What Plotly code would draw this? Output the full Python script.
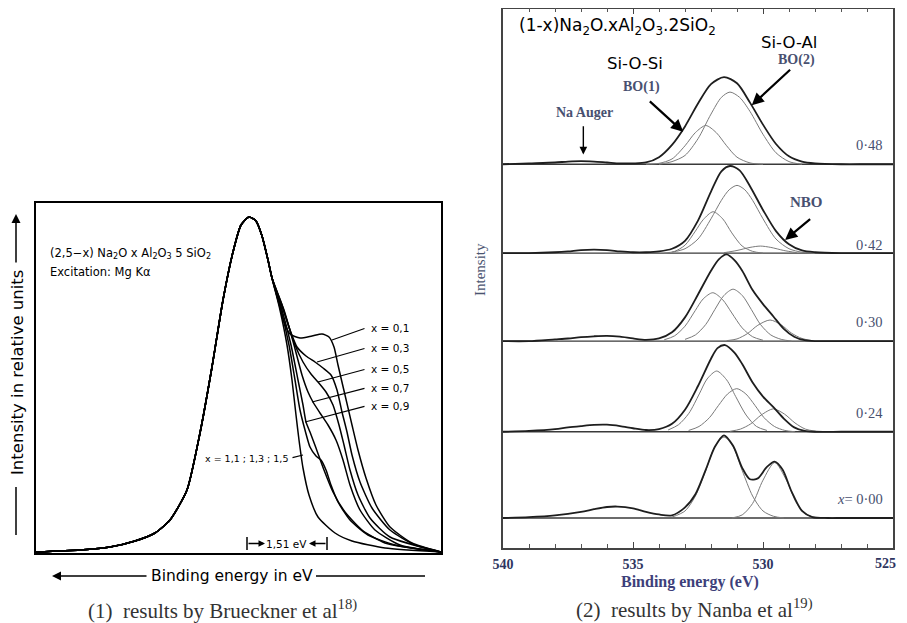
import plotly.graph_objects as go

# ================= Panel (1): Brueckner et al. =================
# x: energy channel (arbitrary units), y: intensity in relative units
left_common_x = [0, 44, 74, 99, 119, 134, 151, 164, 176, 187, 197, 205, 213, 220, 226, 232, 236]
left_common_y = [1, 3, 6, 12, 20, 33, 63, 120, 186, 253, 301, 328, 336, 332, 317, 293, 275]

left_branch_names = ["x = 1,5", "x = 1,1 ; 1,3", "x = 0,9", "x = 0,7", "x = 0,5", "x = 0,3", "x = 0,1"]
branch_x_15 = [236, 244, 251, 256, 260, 263, 267, 273, 282, 299, 316, 349, 405]
branch_y_15 = [275, 243, 208, 173, 138, 113, 85, 58, 36, 20, 12, 5, 1]
branch_x_11 = [236, 245, 253, 259, 264, 269, 274, 280, 285, 290, 295, 302, 314, 332, 359, 405]
branch_y_11 = [275, 243, 208, 173, 143, 123, 106, 97, 93, 83, 68, 51, 33, 18, 8, 1]
branch_x_09 = [236, 246, 255, 262, 267, 270, 274, 280, 288, 297, 309, 326, 349, 405]
branch_y_09 = [275, 243, 208, 173, 148, 131, 121, 105, 83, 61, 41, 23, 10, 1]
branch_x_07 = [236, 248, 258, 266, 272, 277, 284, 292, 300, 307, 314, 324, 339, 364, 405]
branch_y_07 = [275, 243, 208, 178, 161, 151, 140, 128, 113, 93, 68, 43, 23, 8, 1]
branch_x_05 = [236, 249, 259, 267, 275, 282, 290, 297, 303, 308, 314, 322, 334, 354, 405]
branch_y_05 = [275, 238, 208, 191, 179, 171, 161, 148, 128, 108, 83, 58, 35, 16, 1]
branch_x_03 = [236, 246, 254, 261, 270, 279, 287, 295, 301, 306, 311, 316, 324, 336, 354, 379, 405]
branch_y_03 = [275, 248, 223, 206, 197, 191, 185, 178, 163, 141, 121, 98, 71, 45, 23, 8, 1]
branch_x_01 = [236, 242, 248, 254, 264, 276, 286, 293, 298, 302, 309, 316, 322, 330, 340, 354, 376, 405]
branch_y_01 = [275, 253, 231, 219, 215, 217, 219, 216, 206, 188, 158, 128, 103, 75, 48, 26, 10, 1]

left_branches_x = [branch_x_15, branch_x_11, branch_x_09, branch_x_07, branch_x_05, branch_x_03, branch_x_01]
left_branches_y = [branch_y_15, branch_y_11, branch_y_09, branch_y_07, branch_y_05, branch_y_03, branch_y_01]

# ================= Panel (2): Nanba et al. =================
comp_labels = ["0·48", "0·42", "0·30", "0·24", "<i>x</i>= 0·00"]
comp_offsets = [4.02, 3.01, 2.01, 0.98, 0.0]

env_x_048 = [540, 539, 538, 537.5, 537, 536.5, 536, 535.5, 535, 534.5, 534, 533.5, 533, 532.5, 532, 531.5, 531, 530.5, 530, 529.5, 529, 528.5, 528, 527, 526, 525]
env_y_048 = [0.0, 0.01, 0.02, 0.03, 0.035, 0.03, 0.02, 0.01, 0.01, 0.02, 0.08, 0.22, 0.43, 0.69, 0.91, 0.99, 0.92, 0.70, 0.45, 0.23, 0.09, 0.03, 0.01, 0.0, 0.0, 0.0]
bo1_x_048 = [534.5, 534, 533.5, 533, 532.6, 532.2, 531.8, 531.4, 531, 530.5, 530]
bo1_y_048 = [0.0, 0.01, 0.06, 0.21, 0.36, 0.44, 0.36, 0.21, 0.08, 0.015, 0.0]
bo2_x_048 = [534, 533.5, 533, 532.5, 532, 531.6, 531.27, 530.9, 530.5, 530, 529.5, 529, 528.5]
bo2_y_048 = [0.0, 0.03, 0.10, 0.29, 0.57, 0.76, 0.82, 0.76, 0.60, 0.34, 0.13, 0.03, 0.0]

env_x_042 = [540, 539, 538, 537.5, 537, 536.5, 536, 535.5, 535, 534.5, 534, 533.5, 533, 532.5, 532, 531.6, 531.27, 530.9, 530.5, 530, 529.5, 529, 528.5, 528, 527, 526, 525]
env_y_042 = [0.0, 0.0, 0.01, 0.02, 0.035, 0.04, 0.035, 0.02, 0.01, 0.01, 0.02, 0.05, 0.14, 0.37, 0.70, 0.93, 0.99, 0.94, 0.76, 0.49, 0.25, 0.10, 0.03, 0.01, 0.0, 0.0, 0.0]
bo1_x_042 = [533.8, 533.4, 533, 532.6, 532.3, 531.92, 531.55, 531.2, 530.8, 530.4, 530]
bo1_y_042 = [0.0, 0.02, 0.09, 0.25, 0.38, 0.47, 0.39, 0.23, 0.08, 0.02, 0.0]
bo2_x_042 = [533.5, 533, 532.5, 532, 531.6, 531.3, 531.0, 530.7, 530.4, 530, 529.5, 529, 528.5, 528]
bo2_y_042 = [0.01, 0.05, 0.16, 0.39, 0.60, 0.72, 0.77, 0.72, 0.60, 0.39, 0.16, 0.05, 0.01, 0.0]
nbo_x_042 = [531.5, 531, 530.5, 530.1, 529.7, 529.2, 528.7]
nbo_y_042 = [0.005, 0.03, 0.065, 0.08, 0.065, 0.03, 0.005]

env_x_030 = [540, 539, 538, 537.5, 537, 536.5, 536, 535.5, 535, 534.5, 534, 533.5, 533, 532.5, 532, 531.7, 531.4, 531.1, 530.8, 530.4, 530, 529.6, 529.2, 528.8, 528.4, 528, 527, 526, 525]
env_y_030 = [0.0, 0.0, 0.02, 0.03, 0.045, 0.055, 0.06, 0.05, 0.03, 0.015, 0.03, 0.10, 0.27, 0.53, 0.80, 0.93, 0.985, 0.92, 0.80, 0.58, 0.42, 0.28, 0.14, 0.05, 0.01, 0.0, 0.0, 0.0, 0.0]
bo1_x_030 = [533.8, 533.4, 533, 532.6, 532.3, 531.93, 531.55, 531.2, 530.8, 530.4, 530]
bo1_y_030 = [0.015, 0.06, 0.17, 0.35, 0.48, 0.55, 0.47, 0.32, 0.15, 0.05, 0.01]
bo2_x_030 = [533, 532.6, 532.2, 531.85, 531.5, 531.15, 530.8, 530.45, 530.1, 529.7, 529.3, 528.9]
bo2_y_030 = [0.02, 0.07, 0.19, 0.36, 0.52, 0.59, 0.52, 0.36, 0.19, 0.07, 0.02, 0.0]
nbo_x_030 = [531.4, 531, 530.6, 530.2, 529.73, 529.3, 528.9, 528.5, 528.1]
nbo_y_030 = [0.005, 0.025, 0.085, 0.18, 0.24, 0.185, 0.09, 0.03, 0.005]

env_x_024 = [540, 539, 538, 537.5, 537, 536.5, 536, 535.5, 535, 534.5, 534, 533.5, 533, 532.5, 532, 531.75, 531.46, 531.1, 530.8, 530.4, 530, 529.6, 529.2, 528.8, 528.4, 528, 527, 526, 525]
env_y_024 = [0.0, 0.01, 0.03, 0.05, 0.065, 0.078, 0.08, 0.065, 0.04, 0.02, 0.03, 0.09, 0.25, 0.52, 0.83, 0.95, 0.985, 0.90, 0.77, 0.56, 0.40, 0.28, 0.15, 0.05, 0.01, 0.0, 0.0, 0.0, 0.0]
bo1_x_024 = [533.65, 533.25, 532.85, 532.45, 532.15, 531.78, 531.4, 531.05, 530.65, 530.25, 529.85]
bo1_y_024 = [0.02, 0.08, 0.21, 0.43, 0.60, 0.69, 0.59, 0.40, 0.19, 0.06, 0.015]
bo2_x_024 = [532.86, 532.46, 532.06, 531.71, 531.36, 531.01, 530.66, 530.31, 529.96, 529.56, 529.16, 528.76]
bo2_y_024 = [0.015, 0.06, 0.16, 0.30, 0.43, 0.49, 0.43, 0.30, 0.16, 0.06, 0.015, 0.0]
nbo_x_024 = [531.27, 530.87, 530.47, 530.07, 529.6, 529.17, 528.77, 528.37, 527.97]
nbo_y_024 = [0.005, 0.03, 0.09, 0.19, 0.26, 0.20, 0.10, 0.03, 0.006]

env_x_000 = [540, 539, 538, 537, 536.5, 536, 535.6, 535, 534.5, 534, 533.5, 533, 532.6, 532.2, 531.85, 531.5, 531.15, 530.8, 530.5, 530.2, 529.85, 529.55, 529.25, 528.9, 528.5, 528.1, 527.5, 527, 526, 525]
env_y_000 = [0.0, 0.01, 0.03, 0.07, 0.10, 0.125, 0.13, 0.11, 0.07, 0.04, 0.03, 0.12, 0.27, 0.55, 0.81, 0.94, 0.82, 0.57, 0.44, 0.45, 0.58, 0.64, 0.55, 0.30, 0.08, 0.01, 0.0, 0.0, 0.0, 0.0]
bo1_x_000 = [533.5, 533, 532.6, 532.2, 531.85, 531.5, 531.15, 530.8, 530.4, 530, 529.6, 529.2]
bo1_y_000 = [0.01, 0.08, 0.25, 0.54, 0.81, 0.92, 0.81, 0.54, 0.25, 0.08, 0.02, 0.0]
nbo_x_000 = [531.2, 530.8, 530.4, 530.0, 529.55, 529.1, 528.7, 528.3, 527.9]
nbo_y_000 = [0.0, 0.035, 0.165, 0.43, 0.63, 0.43, 0.165, 0.035, 0.0]

env_xs = [env_x_048, env_x_042, env_x_030, env_x_024, env_x_000]
env_ys = [env_y_048, env_y_042, env_y_030, env_y_024, env_y_000]
components = [
    [(bo1_x_048, bo1_y_048), (bo2_x_048, bo2_y_048)],
    [(bo1_x_042, bo1_y_042), (bo2_x_042, bo2_y_042), (nbo_x_042, nbo_y_042)],
    [(bo1_x_030, bo1_y_030), (bo2_x_030, bo2_y_030), (nbo_x_030, nbo_y_030)],
    [(bo1_x_024, bo1_y_024), (bo2_x_024, bo2_y_024), (nbo_x_024, nbo_y_024)],
    [(bo1_x_000, bo1_y_000), (nbo_x_000, nbo_y_000)],
]
x_ticks = [540, 535, 530, 525]
x_tick_text = ["540", "535", "530", "525"]

# ================= Figure =================
W, H = 907, 623
OFF = 8  # page body margin in the viewer
fig = go.Figure()

for bx, by in zip(left_branches_x, left_branches_y):
    fig.add_trace(go.Scatter(
        x=left_common_x + bx[1:], y=left_common_y + by[1:], mode="lines",
        line=dict(color="black", width=1.5, shape="spline", smoothing=0.6),
        xaxis="x", yaxis="y", hoverinfo="skip"))

for off, ex, ey, comps in zip(comp_offsets, env_xs, env_ys, components):
    fig.add_trace(go.Scatter(x=[x_ticks[0], x_ticks[-1]], y=[off, off], mode="lines",
                             line=dict(color="#3a3a3a", width=1.3),
                             xaxis="x2", yaxis="y2", hoverinfo="skip"))
    for cx, cy in comps:
        fig.add_trace(go.Scatter(x=cx, y=[v + off for v in cy], mode="lines",
                                 line=dict(color="#7a7a7a", width=1.0, shape="spline", smoothing=0.8),
                                 xaxis="x2", yaxis="y2", hoverinfo="skip"))
    fig.add_trace(go.Scatter(x=ex, y=[v + off for v in ey], mode="lines",
                             line=dict(color="#1e1e1e", width=1.8, shape="spline", smoothing=0.8),
                             xaxis="x2", yaxis="y2", hoverinfo="skip"))

def px(x):
    return min(1.0, max(0.0, (x - OFF) / W))

def py(y):
    return min(1.0, max(0.0, 1 - (y - OFF) / H))

ann = []
sans = "DejaVu Sans"
serif = "Liberation Serif"
lab_col = "#485070"
tick_font = dict(family=serif, size=14, color="#2e3560", weight="bold")

def text(x, y, t, size, ref=("x", "y"), xa="center", ya="middle", color="black", family=sans, **kw):
    ann.append(dict(x=x, y=y, xref=ref[0], yref=ref[1], xanchor=xa, yanchor=ya, showarrow=False,
                    text=t, font=dict(family=family, size=size, color=color, **kw)))

def arrow(hx, hy, tx, ty, ref=("x", "y"), head=2, width=1.2, size=1.0):
    ann.append(dict(x=hx, y=hy, xref=ref[0], yref=ref[1], ax=tx, ay=ty, axref=ref[0], ayref=ref[1],
                    showarrow=True, arrowhead=head, arrowsize=size, arrowwidth=width,
                    arrowcolor="black", text=""))

P = ("paper", "paper")
R = ("x2", "y2")

# ---- left panel text ----
text(12, 300, "(2,5−x) Na<sub>2</sub>O x Al<sub>2</sub>O<sub>3</sub> 5 SiO<sub>2</sub>", 11.5, xa="left")
text(12, 281, "Excitation: Mg Kα", 11.5, xa="left")

left_label_text = ["x = 0,1", "x = 0,3", "x = 0,5", "x = 0,7", "x = 0,9"]
left_label_y = [225, 205, 184, 165, 147]
left_label_tip = [(296, 213), (281, 191), (282, 171), (276, 151), (269, 131)]
for t, ly, (tx, ty) in zip(left_label_text, left_label_y, left_label_tip):
    arrow(tx, ty, 330, ly, head=0, width=1.1)
    text(333, ly, t, 10.5, xa="left")
arrow(267, 98, 255, 95, head=0, width=1.1)
text(254, 95, "x = 1,1 ; 1,3 ; 1,5", 9.5, xa="right")
# 1,51 eV bracket
text(250, 9.5, "1,51 eV", 10.5)
arrow(229, 9.5, 211, 9.5, head=2, width=1.3)
arrow(273, 9.5, 291, 9.5, head=2, width=1.3)

# axis titles (left)
ann.append(dict(x=px(17), y=py(373), xref="paper", yref="paper", xanchor="center", yanchor="middle",
                showarrow=False, textangle=-90, text="Intensity in relative units",
                font=dict(family=sans, size=16.5, color="black")))
ann.append(dict(x=px(16), y=py(214), xref="paper", yref="paper", ax=0, ay=50,
                showarrow=True, arrowhead=2, arrowsize=1.2, arrowwidth=1.5, arrowcolor="black", text=""))
text(px(232), py(576), "Binding energy in eV", 15.5, ref=P)
ann.append(dict(x=px(52), y=py(576), xref="paper", yref="paper", ax=96, ay=0,
                showarrow=True, arrowhead=2, arrowsize=1.2, arrowwidth=1.5, arrowcolor="black", text=""))

# captions
text(px(222), py(609), "(1)\u2002results by Brueckner et al<sup>18)</sup>", 21, ref=P, family=serif, color="#333333")
text(px(694), py(608), "(2)\u2002results by Nanba et al<sup>19)</sup>", 21, ref=P, family=serif, color="#333333")

# ---- right panel text ----
text(539.45, 5.59, "(1-x)Na<sub>2</sub>O.xAl<sub>2</sub>O<sub>3</sub>.2SiO<sub>2</sub>", 17, ref=R, xa="left")
text(529.0, 5.40, "Si-O-Al", 16.5, ref=R)
text(534.92, 5.17, "Si-O-Si", 16.5, ref=R)
text(528.73, 5.20, "BO(2)", 14, ref=R, family=serif, color=lab_col, weight="bold")
text(534.69, 4.90, "BO(1)", 14, ref=R, family=serif, color=lab_col, weight="bold")
text(536.88, 4.61, "Na Auger", 14, ref=R, family=serif, color=lab_col, weight="bold")
text(528.31, 3.59, "NBO", 15, ref=R, family=serif, color=lab_col, weight="bold")
for hx, hy, tx, ty, w in [(530.43, 4.69, 528.90, 5.11, 2.2), (533.07, 4.39, 534.41, 4.75, 2.2),
                          (536.91, 4.13, 536.91, 4.47, 1.4), (529.15, 3.16, 528.13, 3.41, 2.2)]:
    arrow(hx, hy, tx, ty, ref=R, head=2, width=w, size=1.1)

comp_label_y = [4.24, 3.10, 2.23, 1.19, 0.22]
for t, ly in zip(comp_labels, comp_label_y):
    text(525.3, ly, t, 14.5, ref=R, xa="right", family=serif, color=lab_col)

# last x tick label drawn right-aligned at the axis end so it stays inside the view
ann.append(dict(x=x_ticks[-1], y=py(563), xref="x2", yref="paper", xanchor="right", yanchor="middle",
                xshift=5, showarrow=False, text=x_tick_text[-1], font=tick_font))

ann.append(dict(x=px(480), y=py(270), xref="paper", yref="paper", xanchor="center", yanchor="middle",
                showarrow=False, textangle=-90, text="Intensity",
                font=dict(family=serif, size=15, color="#4a5470")))
text(px(690), py(582), "Binding energy (eV)", 16, ref=P, family=serif, color="#3d3f7a", weight="bold")

shapes = [
    dict(type="line", xref="paper", yref="paper", x0=px(16), x1=px(16), y0=py(487), y1=py(535),
         line=dict(color="black", width=1.5)),
    dict(type="line", xref="paper", yref="paper", x0=px(316), x1=px(425), y0=py(576), y1=py(576),
         line=dict(color="black", width=1.5)),
    dict(type="line", xref="x", yref="y", x0=211, x1=211, y0=3, y1=16, line=dict(color="black", width=1.5)),
    dict(type="line", xref="x", yref="y", x0=291, x1=291, y0=3, y1=16, line=dict(color="black", width=1.5)),
]

# right panel: 1 intensity unit = 88 px; baseline of x=0.00 at page y 518
r_top_page = OFF + 0.5
r_range = [-(548 - 518) / 88, (518 - r_top_page) / 88]

axis_common = dict(showgrid=False, zeroline=False, showline=True, mirror=True)
fig.update_layout(
    width=W, height=H, autosize=False,
    margin=dict(l=0, r=0, t=0, b=0, pad=0, autoexpand=False),
    paper_bgcolor="white", plot_bgcolor="white", showlegend=False,
    xaxis=dict(domain=[px(36), px(441)], range=[0, 405], linecolor="black", linewidth=1.6,
               showticklabels=False, ticks="", anchor="y", automargin=False, **axis_common),
    yaxis=dict(domain=[py(553), py(203)], range=[0, 350], linecolor="black", linewidth=1.6,
               showticklabels=False, ticks="", anchor="x", automargin=False, **axis_common),
    xaxis2=dict(domain=[px(503), px(893)], range=[540, 525], anchor="y2", showgrid=False, zeroline=False,
                showline=True, mirror="ticks", linecolor="#444444", linewidth=1.5, automargin=False,
                tickvals=x_ticks, ticktext=x_tick_text[:-1] + [""], ticks="inside", ticklen=6, tickwidth=1.2,
                tickcolor="#444444",
                minor=dict(dtick=1, ticks="inside", ticklen=4, tickwidth=1, tickcolor="#555555"),
                tickfont=tick_font, ticklabelstandoff=2),
    yaxis2=dict(domain=[py(548), py(r_top_page)], range=r_range, anchor="x2", automargin=False,
                linecolor="#444444", linewidth=1.5, showticklabels=False, ticks="", **axis_common),
    annotations=ann, shapes=shapes,
)

fig.write_html("out.html")
